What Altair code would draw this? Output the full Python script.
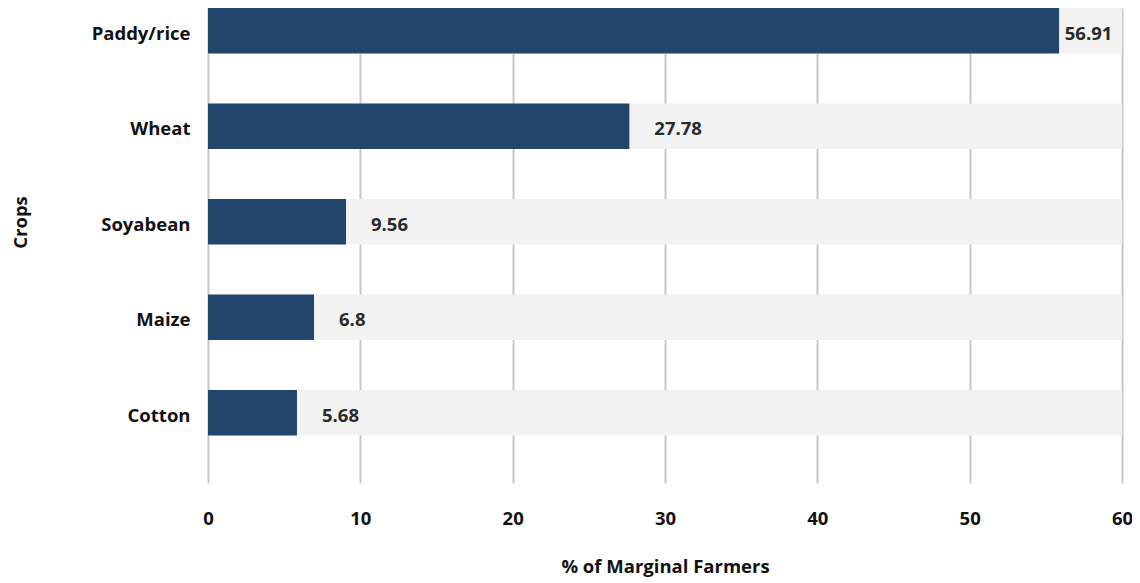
import altair as alt
import pandas as pd

crops = ["Paddy/rice", "Wheat", "Soyabean", "Maize", "Cotton"]
# bar lengths as drawn in the picture
bar_values = [55.87, 27.66, 9.06, 6.96, 5.84]
# values printed next to the bars
label_values = ["56.91", "27.78", "9.56", "6.8", "5.68"]
axis_max = 60
x_ticks = [0, 10, 20, 30, 40, 50, 60]

df = pd.DataFrame({
    "crop": crops,
    "value": bar_values,
    "label": label_values,
    "full": [axis_max] * len(crops),
})

FONT = "Open Sans"
FS = 18.5
FW = "bold"

y_enc = alt.Y(
    "crop:N",
    sort=crops,
    scale=alt.Scale(paddingInner=0.524, paddingOuter=0.249, align=0),
    axis=alt.Axis(
        title="Crops",
        domain=False,
        ticks=False,
        grid=False,
        labelPadding=18,
        labelOffset=3,
        labelFontSize=FS,
        labelFontWeight=FW,
        labelColor="#111111",
        labelFont=FONT,
        titleFont=FONT,
        titleFontSize=FS,
        titleFontWeight=FW,
        titleColor="#111111",
        titleX=-178,
        titleY=214,
        titleAngle=-90,
        titleBaseline="bottom",
    ),
)

x_scale = alt.Scale(domain=[0, axis_max], nice=False, zero=True)

bg = alt.Chart(df).mark_bar(color="#f2f2f2").encode(
    x=alt.X(
        "full:Q",
        scale=x_scale,
        axis=alt.Axis(
            title="% of Marginal Farmers",
            values=x_ticks,
            grid=True,
            gridColor="#c8c8c8",
            gridWidth=2,
            domain=False,
            ticks=False,
            labelFlush=False,
            labelPadding=26,
            labelFontSize=FS,
            labelFontWeight=FW,
            labelColor="#111111",
            labelFont=FONT,
            titleFont=FONT,
            titleFontSize=FS,
            titleFontWeight=FW,
            titleColor="#111111",
            titlePadding=30,
        ),
    ),
    y=y_enc,
)

bars = alt.Chart(df).mark_bar(color="#22466b").encode(
    x=alt.X("value:Q", scale=x_scale),
    y=y_enc,
)

labels = (
    alt.Chart(df)
    .transform_calculate(label_x="min(datum.value, 54.6)")
    .mark_text(align="left", baseline="middle", dx=25, dy=3, fontSize=FS, fontWeight=FW, font=FONT, color="#2a2a2a")
    .encode(
        x=alt.X("label_x:Q", scale=x_scale),
        y=y_enc,
        text=alt.Text("label:N"),
    )
)

chart = (
    alt.layer(bg, bars, labels)
    .properties(
        width=914,
        height=475,
        autosize=alt.AutoSizeParams(type="none"),
        padding={"left": 200, "top": 0, "right": 10, "bottom": 100},
    )
    .configure_view(stroke=None)
)

chart.save("out.html", embed_options={"renderer": "svg", "actions": False})
